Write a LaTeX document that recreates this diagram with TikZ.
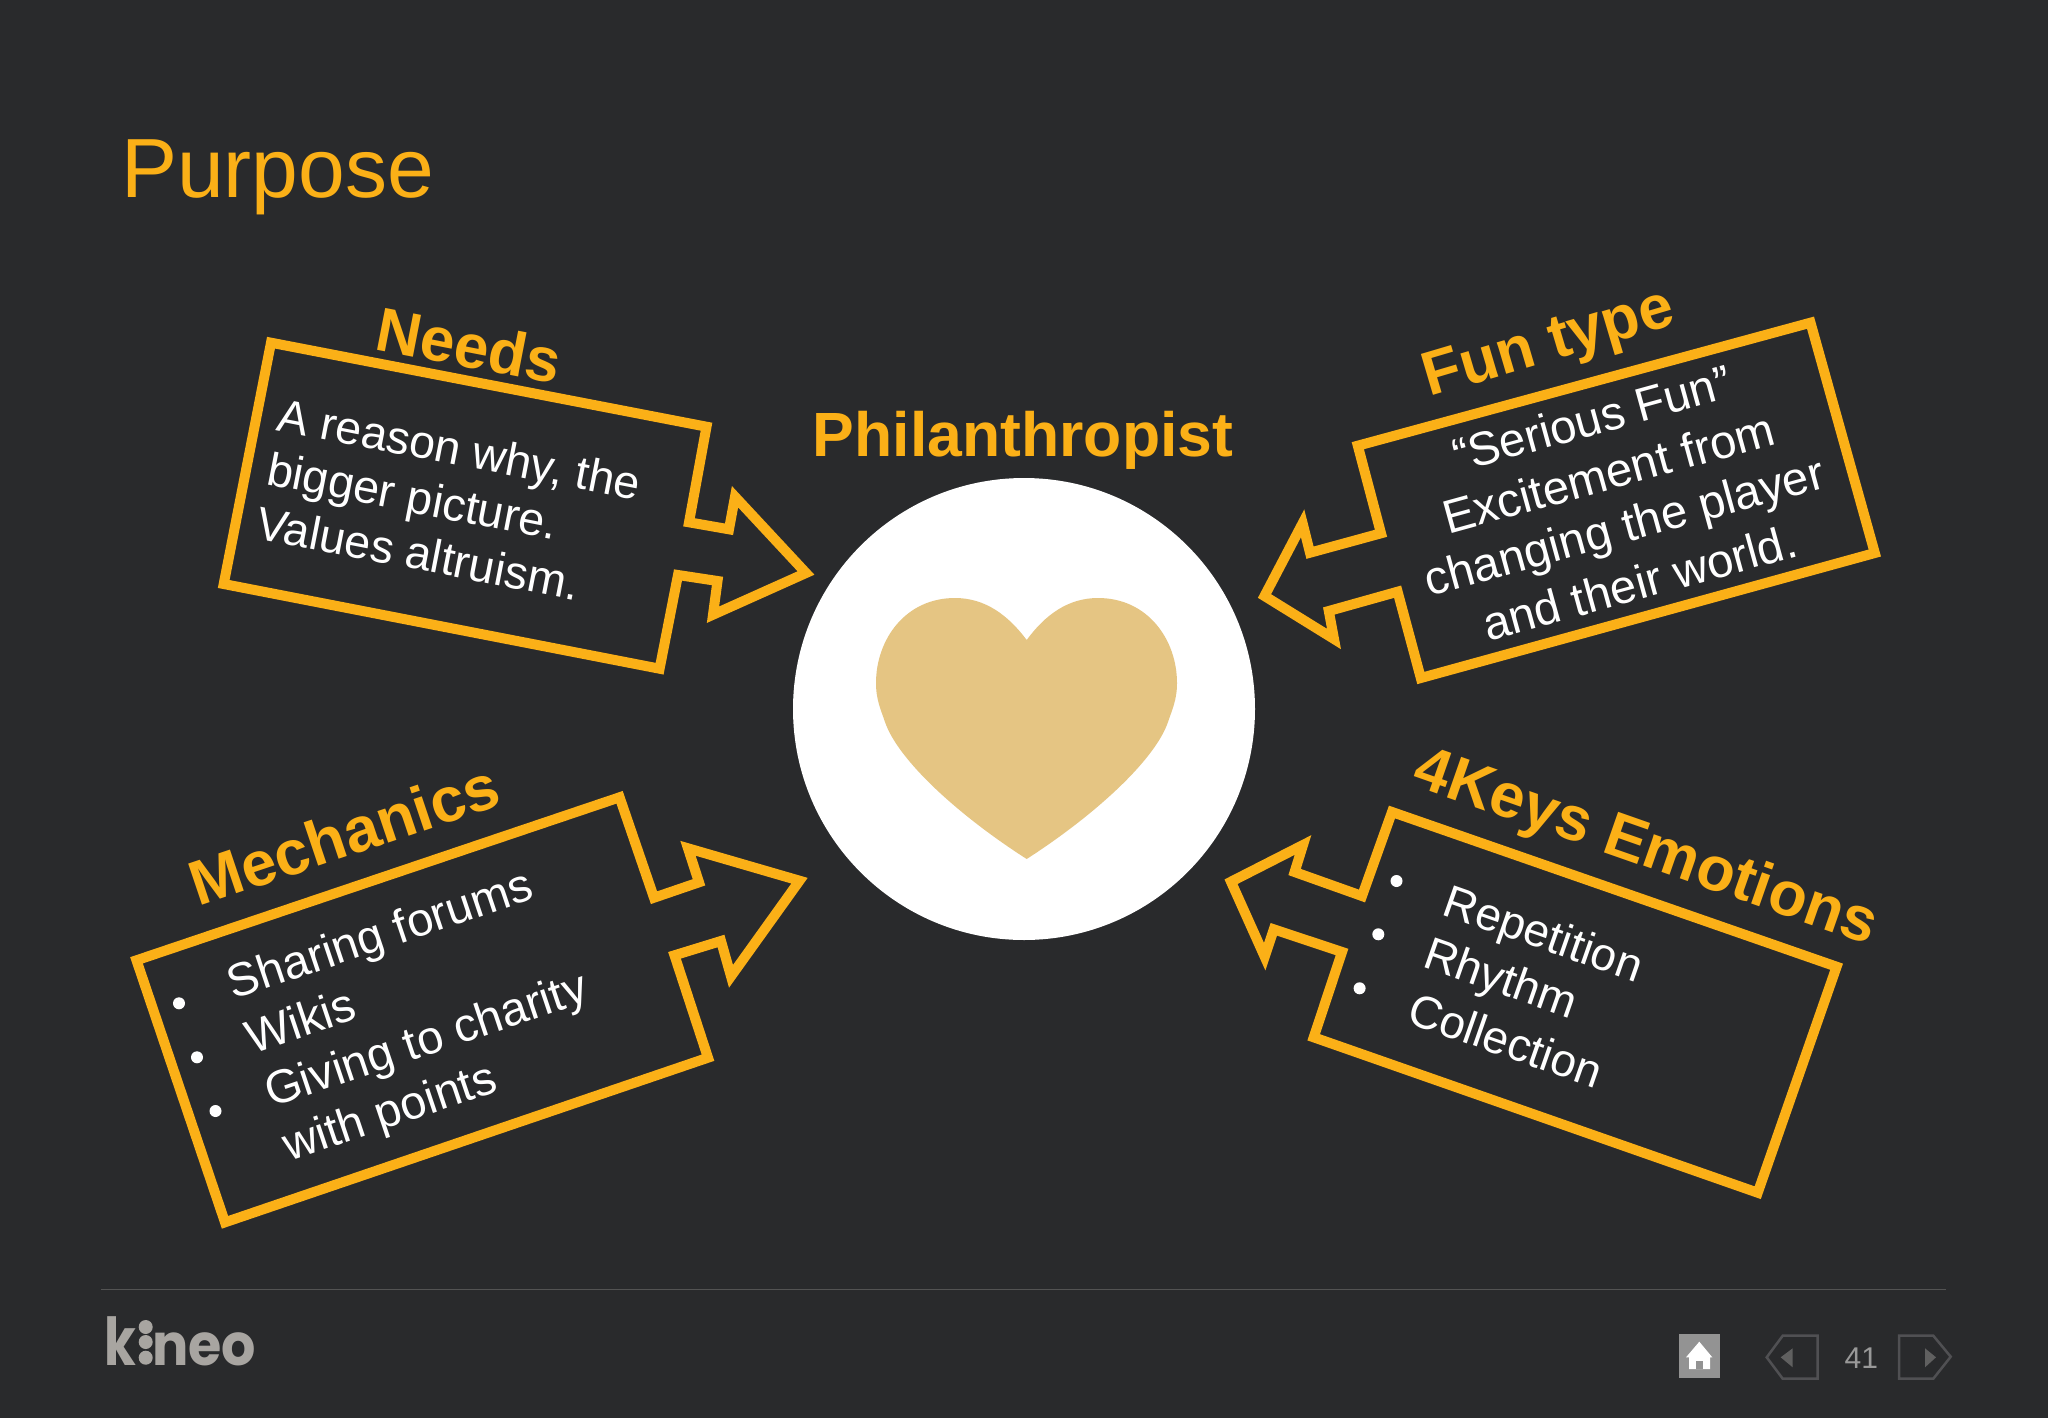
\documentclass[tikz,border=0pt]{standalone}
\usepackage{fontspec}
\setmainfont{Liberation Sans}
\newfontfamily\logofont{Poppins}
\definecolor{slidebg}{HTML}{292A2C}
\definecolor{amber}{HTML}{FBB017}
\definecolor{heartgold}{HTML}{E5C583}
\definecolor{logogrey}{HTML}{A8A5A1}
\definecolor{navgrey}{HTML}{505053}
\tikzset{
  callout/.style={draw=amber, line width=10pt, miter limit=10, line join=miter},
  headtext/.style={text=amber, inner sep=0pt, anchor=base west, font=\bfseries\fontsize{#1}{#1}\selectfont},
  bodytext/.style={text=white, inner sep=0pt, anchor=base west, font=\fontsize{#1}{#1}\selectfont},
  dot/.style={fill=white, circle, inner sep=0pt, minimum size=12pt},
  needstilt/.style={rotate=-11},
  mechtilt/.style={rotate=18.6},
  funtilt/.style={rotate=15.4},
  keystilt/.style={rotate=-19.3}
}
\begin{document}
\begin{tikzpicture}[x=1pt, y=-1pt]
      \useasboundingbox (0, 0) rectangle (2048, 1418);
      \fill[slidebg] (0, 0) rectangle (2048, 1418);
      \node[anchor=base west, inner sep=0pt, text=amber, font=\fontsize{84}{84}\selectfont] (title) at (121, 197) {Purpose};
      \node[anchor=base, inner sep=0pt, text=amber, font=\bfseries\fontsize{62.5}{62.5}\selectfont] (persona) at (1023, 456) {Philanthropist};
      \fill[white] (1024, 709) circle (231);
      \fill[heartgold] (1026.7, 640) .. controls (1045, 615) and (1068, 598) .. (1098, 598)
        .. controls (1148, 598) and (1177, 640) .. (1177, 683)
        .. controls (1177, 700) and (1172, 710) .. (1168, 722)
        .. controls (1155, 760) and (1095, 815) .. (1026.7, 859)
        .. controls (958, 815) and (898, 760) .. (885, 722)
        .. controls (881, 710) and (876, 700) .. (876, 683)
        .. controls (876, 640) and (905, 598) .. (955, 598)
        .. controls (985, 598) and (1008, 615) .. (1026.7, 640) -- cycle;
      \draw[callout] (271, 342.7) -- (706.5, 426.7) -- (689, 522.3) -- (729, 529.3) -- (735, 496.7) -- (806, 573)
        -- (713, 614.7) -- (717.5, 581) -- (678, 575) -- (659.6, 668.7) -- (223.7, 584) -- cycle;
      \node[headtext=62, needstilt] (needshead) at (373.5, 349) {Needs};
      \node[bodytext=46.5, needstilt] (needsa) at (275.5, 430) {\makebox[368pt][s]{A reason why, the}};
      \node[bodytext=46.5, needstilt] (needsb) at (265, 484) {bigger picture.};
      \node[bodytext=46.5, needstilt] (needsc) at (254.5, 538) {Values altruism.};
      \draw[callout] (136.5, 960.3) -- (619.6, 797.3) -- (654, 897.7) -- (699, 882.3) -- (688, 848.3) -- (799.5, 880.7)
        -- (731, 976.3) -- (721, 941) -- (674.5, 955.3) -- (708, 1057.7) -- (225, 1222.3) -- cycle;
      \node[headtext=63, mechtilt] (mechhead) at (198.5, 907) {Mechanics};
      \node[dot] (mechdota) at (179, 1003.3) {};
      \node[dot] (mechdotb) at (197, 1057.3) {};
      \node[dot] (mechdotc) at (215.5, 1111) {};
      \node[bodytext=47, mechtilt] (mecha) at (233.8, 1000) {Sharing forums};
      \node[bodytext=47, mechtilt] (mechb) at (252, 1054.3) {Wikis};
      \node[bodytext=47, mechtilt] (mechc) at (271, 1108) {Giving to charity};
      \node[bodytext=47, mechtilt] (mechd) at (289, 1161.7) {with points};
      \draw[callout] (1810.5, 322.7) -- (1874.8, 553) -- (1420.8, 678) -- (1397.6, 591.7) -- (1328.8, 611) -- (1334, 639)
        -- (1264.5, 596) -- (1302.6, 523.3) -- (1310, 552.7) -- (1381, 533.3) -- (1357.8, 445.7) -- cycle;
      \node[headtext=62, rotate=16.5] (funhead) at (1429.5, 397) {Fun type};
      \node[bodytext=47.3, funtilt, anchor=base] (funa) at (1596.4, 434.5) {“Serious Fun”};
      \node[bodytext=47.3, funtilt, anchor=base] (funb) at (1613, 489) {Excitement from};
      \node[bodytext=47.3, funtilt, anchor=base] (func) at (1628.5, 541.7) {changing the player};
      \node[bodytext=47.3, funtilt, anchor=base] (fund) at (1644, 598.5) {and their world.};
      \draw[callout] (1392, 812) -- (1836.6, 966.7) -- (1757.7, 1192.7) -- (1313.7, 1037.3) -- (1342, 952) -- (1273.8, 929.3)
        -- (1264.7, 956.7) -- (1231, 881.7) -- (1303, 845) -- (1294.6, 872) -- (1362, 896) -- cycle;
      \node[headtext=62.5, keystilt] (keyshead) at (1410, 784.5) {4Keys Emotions};
      \node[dot] (keysdota) at (1396.5, 881) {};
      \node[dot] (keysdotb) at (1378.3, 934.3) {};
      \node[dot] (keysdotc) at (1359.6, 988.3) {};
      \node[bodytext=46, keystilt] (keysa) at (1440.5, 914) {Repetition};
      \node[bodytext=46, keystilt] (keysb) at (1421.3, 966.5) {Rhythm};
      \node[bodytext=46, keystilt] (keysc) at (1405, 1022) {Collection};
      \draw[gray!65!black, line width=1.5pt] (101, 1289.3) -- (1946, 1289.3);
      \node[anchor=base west, inner sep=0pt, xscale=.78, text=logogrey, font=\logofont\bfseries\fontsize{66}{66}\selectfont] (logok) at (104, 1365) {k};
      \fill[logogrey] (145.7, 1327) circle (7);
      \fill[logogrey] (145.7, 1342) circle (7);
      \fill[logogrey] (145.7, 1357.7) circle (7);
      \node[anchor=base west, inner sep=0pt, xscale=.93, text=logogrey, font=\logofont\bfseries\fontsize{58}{58}\selectfont] (logoneo) at (152, 1365) {neo};
      \fill[gray!85] (1679, 1334) rectangle (1720, 1377.7);
      \fill[white] (1699.3, 1341.7) -- (1712.3, 1357.3) -- (1710, 1357.3) -- (1710, 1369) -- (1689, 1369) -- (1689, 1357.3) -- (1686, 1357.3) -- cycle;
      \fill[gray!85] (1696, 1361) rectangle (1703, 1369);
      \draw[navgrey, line width=2.5pt] (1766.7, 1357.3) -- (1782.7, 1335.7) -- (1817.7, 1335.7) -- (1817.7, 1378.7) -- (1782.7, 1378.7) -- cycle;
      \fill[gray!75!black] (1792.7, 1348.3) -- (1792.7, 1367.3) -- (1780.7, 1357.3) -- cycle;
      \node[anchor=base, inner sep=0pt, text=gray!80, font=\fontsize{30}{30}\selectfont] (pagenum) at (1861.3, 1368.3) {41};
      \draw[navgrey, line width=2.5pt] (1899, 1335.7) -- (1933.3, 1335.7) -- (1950.7, 1356.7) -- (1933.3, 1378.7) -- (1899, 1378.7) -- cycle;
      \fill[gray!75!black] (1925, 1348.3) -- (1925, 1367.3) -- (1936, 1357.3) -- cycle;
    \end{tikzpicture}
\end{document}
